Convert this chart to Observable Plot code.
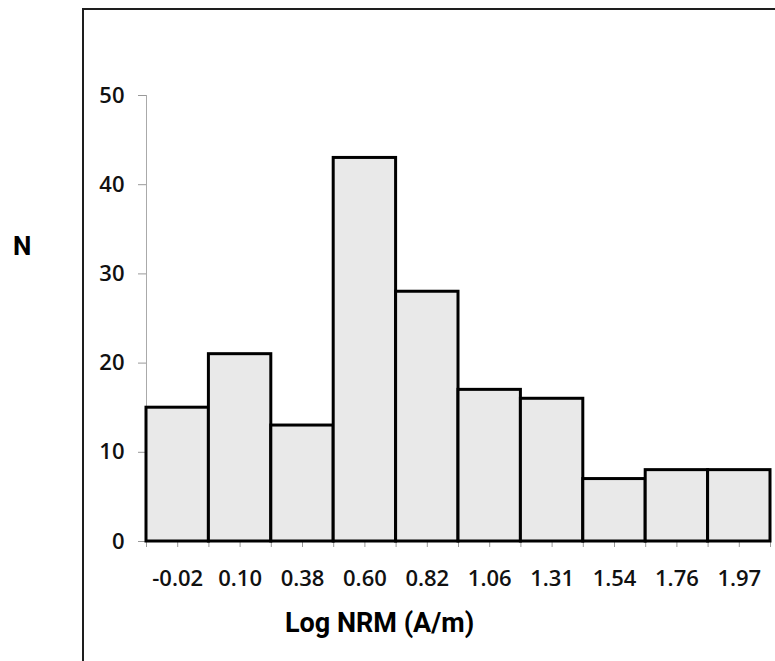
<!DOCTYPE html>
<html>
<head>
<meta charset="utf-8">
<script src="https://cdn.jsdelivr.net/npm/d3@7"></script>
<script src="https://cdn.jsdelivr.net/npm/@observablehq/plot@0.6"></script>
<style>
  html, body { margin: 0; padding: 0; background: #fff; overflow: hidden; }
  #wrap { position: relative; width: 775px; height: 661px; overflow: hidden; }
  #box { position: absolute; left: 82px; top: 8px; width: 800px; height: 800px;
         border-left: 2px solid #1e1e1e; border-top: 2px solid #1e1e1e; pointer-events: none; }
  .lbl { position: absolute; font-family: Roboto, "Open Sans", sans-serif; font-weight: 700;
         color: #000; white-space: nowrap; }
  #chart { position: absolute; left: 0; top: 0; }
</style>
</head>
<body>
<div id="wrap">
  <div id="chart"></div>
  <div id="box"></div>
  <div class="lbl" style="left:13px; top:233px; font-size:26px; line-height:26px;">N</div>
  <div class="lbl" style="left:285px; top:610px; font-size:27px; line-height:27px;">Log NRM (A/m)</div>
</div>
<script>
const labels = ["-0.02", "0.10", "0.38", "0.60", "0.82", "1.06", "1.31", "1.54", "1.76", "1.97"];
const counts = [15, 21, 13, 43, 28, 17, 16, 7, 8, 8];
const yTicks = [0, 10, 20, 30, 40, 50];

const data = labels.map((label, i) => ({label, i, n: counts[i]}));
const edgeTicks = d3.range(0, labels.length + 0.5, 0.5);
const centerTicks = labels.map((_, i) => i + 0.5);

const chart = Plot.plot({
  width: 775,
  height: 661,
  marginLeft: 146,
  marginRight: 5,
  marginTop: 95,
  marginBottom: 120,
  x: {domain: [0, labels.length], label: null},
  y: {domain: [0, 50], label: null},
  style: {fontFamily: "'Open Sans', sans-serif", fontSize: "22px", color: "#111", background: "transparent"},
  marks: [
    Plot.ruleX([0], {stroke: "#aaa", strokeWidth: 1}),
    Plot.axisY({ticks: yTicks, tickSize: 8, tickPadding: 14, stroke: "#999", fontSize: 22, fontWeight: 600, label: null}),
    Plot.ruleY([0], {stroke: "#999"}),
    Plot.axisX({ticks: edgeTicks, tickSize: 6, tickFormat: () => "", stroke: "#999", label: null}),
    Plot.rectY(data, {x1: "i", x2: d => d.i + 1, y: "n", fill: "#e9e9e9", stroke: "#000", strokeWidth: 3}),
    Plot.axisX({ticks: centerTicks, tickSize: 0, tickPadding: 29, fontSize: 22,
                tickFormat: t => labels[Math.floor(t)], fontWeight: 600, label: null})
  ]
});
document.getElementById("chart").appendChild(chart);
</script>
</body>
</html>
